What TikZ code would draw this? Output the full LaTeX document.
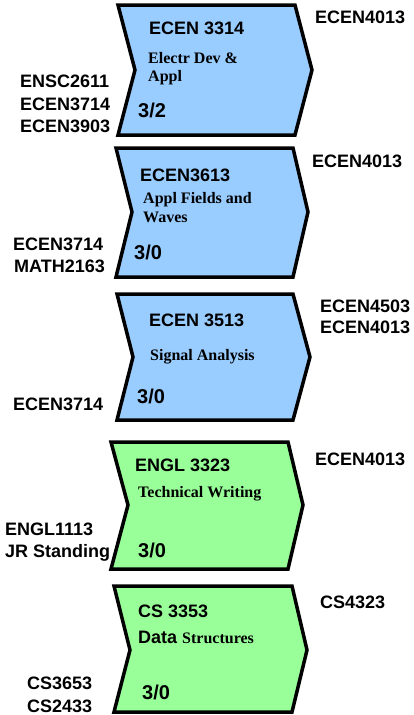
\documentclass[tikz,border=0pt]{standalone}
\usepackage{fontspec}
\setmainfont{Liberation Serif}
\setsansfont{Liberation Sans}
\definecolor{cblue}{RGB}{153,204,255}
\definecolor{cgreen}{RGB}{153,255,153}
\tikzset{
  chev/.style={draw=black, line width=3.5pt, line join=miter},
  code/.style={anchor=base west, inner sep=0pt, font=\sffamily\bfseries\fontsize{18}{20}\selectfont},
  ttl/.style={anchor=base west, inner sep=0pt, font=\rmfamily\bfseries\fontsize{16}{18}\selectfont},
  cred/.style={anchor=base west, inner sep=0pt, font=\sffamily\bfseries\fontsize{20}{22}\selectfont},
}
\begin{document}
\begin{tikzpicture}[x=1pt,y=-1pt]
\useasboundingbox (0,0) rectangle (414,715);
% chevrons
\draw[chev, fill=cblue] (118,5) -- (295,5) -- (312,70) -- (295,135) -- (118,135) -- (135,70) -- cycle;
\draw[chev, fill=cblue] (116,148) -- (293,148) -- (308,212) -- (293,277) -- (116,277) -- (132,212) -- cycle;
\draw[chev, fill=cblue] (117,294) -- (293,294) -- (310,357) -- (293,420) -- (117,420) -- (133,357) -- cycle;
\draw[chev, fill=cgreen] (111,442) -- (288,442) -- (303,505) -- (288,569) -- (111,569) -- (128,505) -- cycle;
\draw[chev, fill=cgreen] (114,586) -- (292,586) -- (307,650) -- (292,712) -- (114,712) -- (130,650) -- cycle;
% box 1
\node[code] (c1) at (149,34) {ECEN 3314};
\node[ttl] (t1a) at (148,63) {Electr Dev \&};
\node[ttl] (t1b) at (148,81) {Appl};
\node[cred] (r1) at (138,117) {3/2};
\node[code] (o1) at (315,23) {ECEN4013};
\node[code] (p1a) at (20,87) {ENSC2611};
\node[code] (p1b) at (20,110) {ECEN3714};
\node[code] (p1c) at (20,132) {ECEN3903};
% box 2
\node[code] (c2) at (140,181) {ECEN3613};
\node[ttl] (t2a) at (143,203) {Appl Fields and};
\node[ttl] (t2b) at (143,222) {Waves};
\node[cred] (r2) at (134,259) {3/0};
\node[code] (o2) at (312,167) {ECEN4013};
\node[code] (p2a) at (13,250) {ECEN3714};
\node[code] (p2b) at (14,272) {MATH2163};
% box 3
\node[code] (c3) at (149,326) {ECEN 3513};
\node[ttl] (t3) at (150,360) {Signal Analysis};
\node[cred] (r3) at (137,403) {3/0};
\node[code] (o3a) at (320,312) {ECEN4503};
\node[code] (o3b) at (320,333) {ECEN4013};
\node[code] (p3) at (13,410) {ECEN3714};
% box 4
\node[code] (c4) at (135,471) {ENGL 3323};
\node[ttl] (t4) at (138,497) {Technical Writing};
\node[cred] (r4) at (138,557) {3/0};
\node[code] (o4) at (315,465) {ECEN4013};
\node[code] (p4a) at (5,535) {ENGL1113};
\node[code] (p4b) at (5,557) {JR Standing};
% box 5
\node[code] (c5) at (138,617) {CS 3353};
\node[code] (t5) at (138,643) {Data {\rmfamily\fontsize{16}{18}\selectfont Structures}};
\node[cred] (r5) at (142,699) {3/0};
\node[code] (o5) at (320,608) {CS4323};
\node[code] (p5a) at (27,689) {CS3653};
\node[code] (p5b) at (27,712) {CS2433};
\end{tikzpicture}
\end{document}
